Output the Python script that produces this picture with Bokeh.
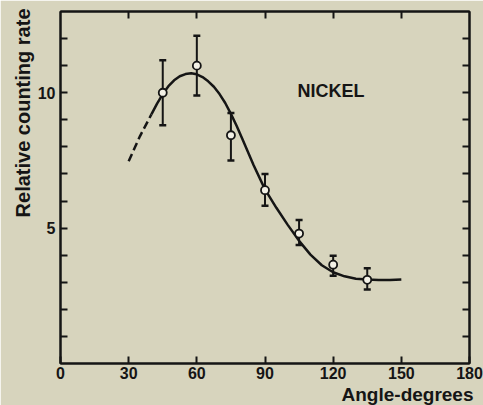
from bokeh.plotting import figure
from bokeh.models import Range1d, LinearAxis, FixedTicker, Label, ColumnDataSource, Title
from bokeh.embed import file_html
from bokeh.resources import INLINE

# ---- data ----
angles = [45, 60, 75, 90, 105, 120, 135]
rates = [10.0, 11.0, 8.43, 6.4, 4.8, 3.65, 3.09]
err_upper = [11.2, 12.1, 9.25, 7.0, 5.3, 3.98, 3.52]
err_lower = [8.8, 9.9, 7.5, 5.83, 4.38, 3.24, 2.73]

curve_dashed_x = [30, 35, 40]
curve_dashed_y = [7.47, 8.4, 9.2]
curve_x = [40, 42.5, 45, 47.5, 50, 52.5, 55, 57.5, 60, 62.5, 65, 67.5, 70,
           72.5, 75, 77.5, 80, 85, 90, 95, 100, 105, 110,
           115, 120, 125, 130, 135, 140, 145, 150]
curve_y = [9.2, 9.6, 9.95, 10.24, 10.46, 10.61, 10.69, 10.72, 10.68, 10.58,
           10.42, 10.22, 9.95, 9.62, 9.22, 8.78, 8.3, 7.32, 6.43,
           5.75, 5.12, 4.53, 4.02, 3.63, 3.37, 3.22, 3.13, 3.1, 3.08, 3.08, 3.1]

x_ticks = [0, 30, 60, 90, 120, 150, 180]
x_inner_ticks = [30, 60, 90, 120, 150]
y_major_ticks = [5, 10]
y_minor_ticks = [1, 2, 3, 4, 6, 7, 8, 9, 11, 12]
y_all_ticks = [1, 2, 3, 4, 5, 6, 7, 8, 9, 10, 11, 12]

BG = "#d7d4bd"
INK = "#151515"
FONT = "Liberation Sans"

p = figure(width=483, height=405, output_backend="svg", toolbar_location=None,
           x_range=Range1d(0, 180), y_range=Range1d(0, 13),
           x_axis_location=None, y_axis_location=None,
           min_border_left=60, min_border_right=14, min_border_top=11,
           min_border_bottom=42)
p.background_fill_color = BG
p.border_fill_color = BG
p.outline_line_color = INK
p.outline_line_width = 2
p.xgrid.visible = False
p.ygrid.visible = False


def style_axis(ax):
    ax.axis_line_color = INK
    ax.axis_line_width = 2
    ax.major_tick_in = 7
    ax.major_tick_out = 0
    ax.minor_tick_in = 7
    ax.minor_tick_out = 0
    ax.major_tick_line_color = INK
    ax.minor_tick_line_color = INK
    ax.major_tick_line_width = 2
    ax.minor_tick_line_width = 2
    ax.major_label_text_font = FONT
    ax.major_label_text_font_style = "bold"
    ax.major_label_text_font_size = "16px"
    ax.major_label_text_color = INK


bottom = LinearAxis(ticker=FixedTicker(ticks=x_ticks))
style_axis(bottom)
bottom.major_label_standoff = 3
top = LinearAxis(ticker=FixedTicker(ticks=[], minor_ticks=x_inner_ticks))
style_axis(top)
left = LinearAxis(ticker=FixedTicker(ticks=y_major_ticks, minor_ticks=y_minor_ticks))
style_axis(left)
left.major_label_standoff = 5
right = LinearAxis(ticker=FixedTicker(ticks=[], minor_ticks=y_all_ticks))
style_axis(right)

p.add_layout(bottom, "below")
p.add_layout(top, "above")
p.add_layout(left, "left")
p.add_layout(right, "right")

# axis titles (placed off-centre like the original)
ytitle = Title(text="Relative counting rate", align="right", text_font=FONT,
               text_font_style="bold", text_font_size="20px",
               text_color=INK, standoff=2, offset=-3)
p.add_layout(ytitle, "left")
xtitle = Title(text="Angle-degrees", align="right", text_font=FONT,
               text_font_style="bold", text_font_size="19px",
               text_color=INK, standoff=0, offset=-4)
p.add_layout(xtitle, "below")

# fitted curve
p.line(curve_dashed_x, curve_dashed_y, line_color=INK, line_width=2.5,
       line_dash="8 4")
p.line(curve_x, curve_y, line_color=INK, line_width=2.5, line_join="round")

# error bars
src = ColumnDataSource(dict(x=angles, y=rates, up=err_upper, lo=err_lower))
p.segment(x0="x", y0="lo", x1="x", y1="up", source=src, line_color=INK,
          line_width=2)
p.scatter(x="x", y="up", source=src, marker="dash", size=7, line_color=INK,
          line_width=2.5)
p.scatter(x="x", y="lo", source=src, marker="dash", size=7, line_color=INK,
          line_width=2.5)
p.scatter(x="x", y="y", source=src, marker="circle", size=8, line_color=INK,
          line_width=1.8, fill_color="#f3f1e6")

# in-plot label
p.add_layout(Label(x=104.3, y=10.08, text="NICKEL", text_font=FONT,
                   text_font_style="bold", text_font_size="18px",
                   text_color=INK, text_baseline="middle", text_align="left"))

open("out.html", "w").write(file_html(p, INLINE))
